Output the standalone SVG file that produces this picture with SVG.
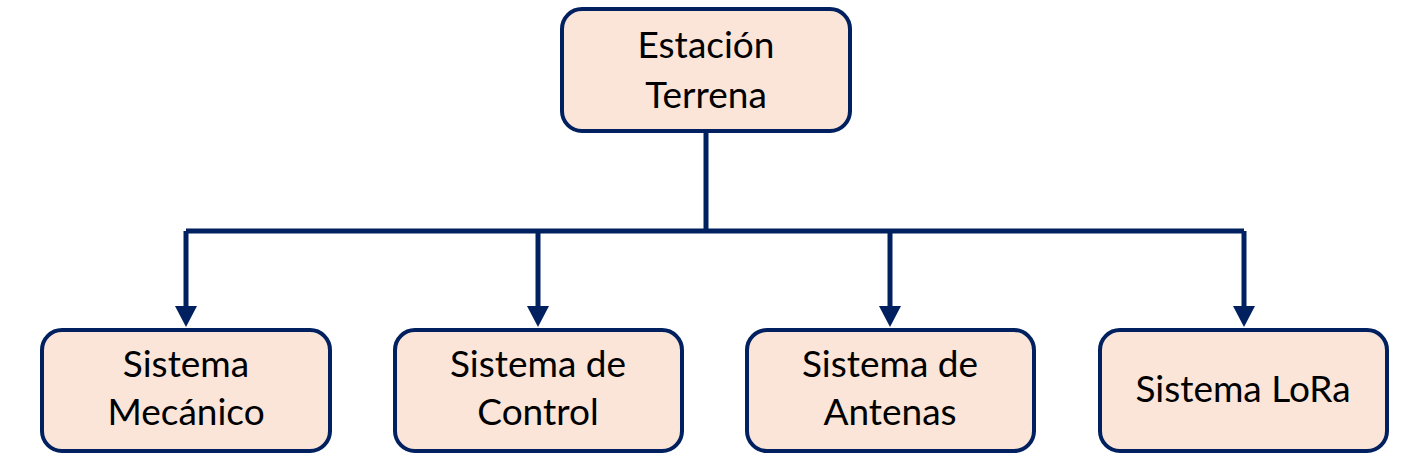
<svg xmlns="http://www.w3.org/2000/svg" width="1414" height="472" viewBox="0 0 1414 472">
<defs>
<style>
.box{fill:#FAE5D8;stroke:#002060;stroke-width:4}
.lbl{font-family:Lato,"Liberation Sans",sans-serif;font-size:37px;fill:#000;text-anchor:middle}
.wire{fill:none;stroke:#002060;stroke-width:5}
.head{fill:#002060}
</style>
</defs>
<rect width="1414" height="472" fill="#fff"/>
<g id="connectors">
<path class="wire" d="M706,133 V231"/>
<path class="wire" d="M186,231 H1244"/>
<path class="wire" d="M186,231 V307"/>
<path class="wire" d="M538,231 V307"/>
<path class="wire" d="M890,231 V307"/>
<path class="wire" d="M1244,231 V307"/>
<path class="head" d="M175,306 H197 L186,327 Z"/>
<path class="head" d="M527,306 H549 L538,327 Z"/>
<path class="head" d="M879,306 H901 L890,327 Z"/>
<path class="head" d="M1233,306 H1255 L1244,327 Z"/>
</g>
<g id="estacion">
<rect class="box" x="562" y="9" width="288" height="122" rx="20"/>
<text class="lbl" x="706" y="58">Estación</text>
<text class="lbl" x="706" y="108">Terrena</text>
</g>
<g id="mecanico">
<rect class="box" x="42" y="330" width="288" height="121" rx="20"/>
<text class="lbl" x="186" y="377">Sistema</text>
<text class="lbl" x="186" y="425">Mecánico</text>
</g>
<g id="control">
<rect class="box" x="395" y="330" width="287" height="121" rx="20"/>
<text class="lbl" x="538" y="377">Sistema de</text>
<text class="lbl" x="538" y="425">Control</text>
</g>
<g id="antenas">
<rect class="box" x="747" y="330" width="287" height="121" rx="20"/>
<text class="lbl" x="890" y="377">Sistema de</text>
<text class="lbl" x="890" y="425">Antenas</text>
</g>
<g id="lora">
<rect class="box" x="1100" y="330" width="287" height="121" rx="20"/>
<text class="lbl" x="1243" y="402">Sistema LoRa</text>
</g>
</svg>
